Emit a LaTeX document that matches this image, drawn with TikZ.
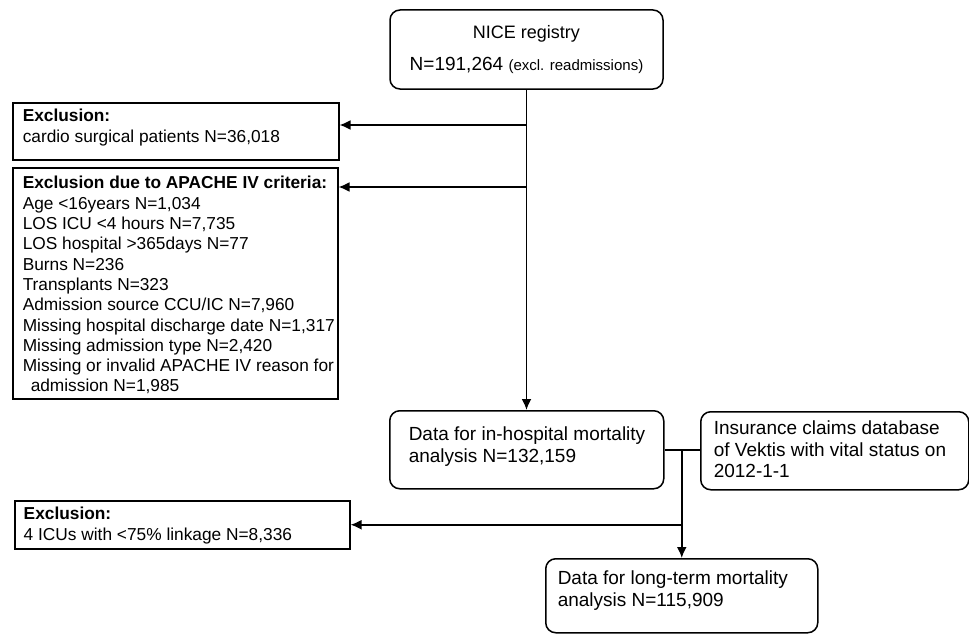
\documentclass[tikz,border=0pt]{standalone}
\usepackage{fontspec}
\setmainfont{Liberation Sans}
\usetikzlibrary{arrows.meta}
\newcommand{\boxtext}[5]{\hspace*{#3}\parbox[c][#2][t]{\dimexpr#1-#3\relax}{\vspace*{#4}\begin{tabular}[t]{@{}l@{}}#5\end{tabular}}}

\begin{document}
\begin{tikzpicture}[x=1pt,y=-1pt,
		exclbox/.style={draw,line width=1.5pt,inner sep=0pt,anchor=north west,
			font=\fontsize{17.3}{20.3}\selectfont},
		flowbox/.style={exclbox,rounded corners=10pt,font=\fontsize{19}{21.5}\selectfont},
		arr/.style={-{Latex[length=11pt,width=10pt]},line width=1.8pt}]
	\useasboundingbox (0,0) rectangle (969,634);
	\node[flowbox,anchor=center,minimum width=273pt,minimum height=79pt,align=center,
		font=\fontsize{19}{32}\selectfont] (nice) at (526.5,49.5)
		{{\fontsize{18}{32}\selectfont NICE registry}\\
		N=191,264 {\fontsize{15}{32}\selectfont (excl. readmissions)}};
	\node[exclbox] (excl1) at (12,102) {\boxtext{326pt}{57pt}{10pt}{5pt}{\textbf{Exclusion:}\\
			cardio surgical patients N=36,018}};
	\node[exclbox] (excl2) at (12,167) {\boxtext{325pt}{231pt}{10pt}{7pt}{\textbf{Exclusion due to APACHE IV criteria:}\\
			Age <16years N=1,034\\
			LOS ICU <4 hours N=7,735\\
			LOS hospital >365days N=77\\
			Burns N=236\\
			Transplants N=323\\
			Admission source CCU/IC N=7,960\\
			Missing hospital discharge date N=1,317\\
			Missing admission type N=2,420\\
			Missing or invalid APACHE IV reason for\\
			\hspace*{8pt}admission N=1,985}};
	\node[flowbox] (inhosp) at (389,410) {\boxtext{274pt}{78pt}{19pt}{15pt}{Data for in-hospital mortality\\
			analysis N=132,159}};
	\node[flowbox] (vektis) at (700,411) {\boxtext{268pt}{78pt}{13pt}{8pt}{Insurance claims database\\
			of Vektis with vital status on\\
			2012-1-1}};
	\node[exclbox] (excl3) at (14,500) {\boxtext{335pt}{48pt}{9pt}{5pt}{\textbf{Exclusion:}\\
			4 ICUs with <75\% linkage N=8,336}};
	\node[flowbox] (longterm) at (545,558) {\boxtext{272pt}{74pt}{12pt}{11pt}{Data for long-term mortality\\
			analysis N=115,909}};
	\coordinate (j1) at (nice.south |- 0,125);
	\coordinate (j2) at (nice.south |- 0,187);
	\coordinate (split) at (longterm.north |- inhosp.east);
	\coordinate (j3) at (longterm.north |- excl3.east);
	\draw[arr] (nice.south) -- (nice.south |- inhosp.north);
	\draw[arr] (j1) -- (j1 -| excl1.east);
	\draw[arr] (j2) -- (j2 -| excl2.east);
	\draw[line width=1.5pt] (inhosp.east) -- (inhosp.east -| vektis.west);
	\draw[arr] (split) -- (longterm.north);
	\draw[arr] (j3) -- (excl3.east);
\end{tikzpicture}
\end{document}
